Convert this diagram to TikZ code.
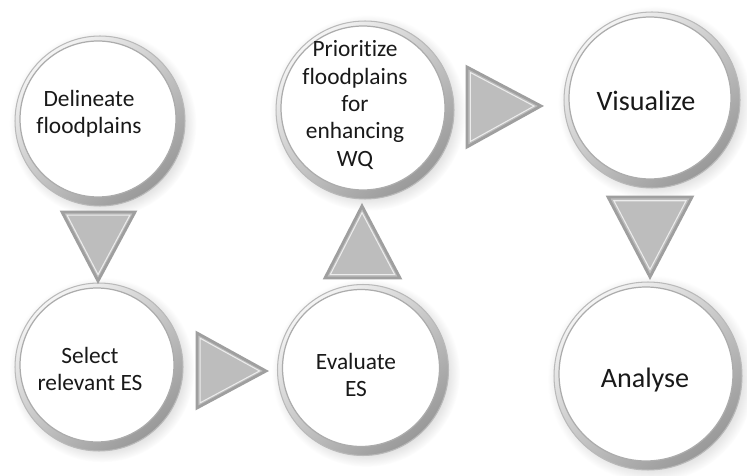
\documentclass[tikz,border=0pt]{standalone}
\usepackage{fontspec}
\setmainfont{Carlito}[Ligatures={NoCommon}]
\usetikzlibrary{shadows,calc}
\tikzset{
  ring/.style={circle, minimum size=#1, inner sep=0pt, draw=gray!55, line width=0.6pt,
    top color=gray!8, bottom color=gray!80, shading angle=40,
    circular drop shadow={shadow xshift=1.5pt, shadow yshift=-1.5pt, opacity=0.25, fill=gray}},
  face/.style={circle, minimum size=#1, inner sep=0pt, fill=white, draw=gray!65, line width=0.7pt},
  label/.style={align=center, text=black!90, inner sep=0pt},
  smalltxt/.style={label, font=\fontsize{13.3}{15.6}\selectfont},
  bigtxt/.style={label, font=\fontsize{16}{19}\selectfont},
  trifill/.style={fill=gray!52, draw=gray!75, line width=1.6pt, line join=miter},
  trihi/.style={draw=gray!15, line width=0.6pt, line join=miter},
}
\newcommand\flowtri[4]{%
  \coordinate (#1a) at #2; \coordinate (#1b) at #3; \coordinate (#1c) at #4;
  \coordinate (#1m) at (barycentric cs:#1a=1,#1b=1,#1c=1);
  \path[trifill] (#1a) -- (#1b) -- (#1c) -- cycle;
  \path[trihi] ($(#1m)!0.86!(#1a)$) -- ($(#1m)!0.86!(#1b)$) -- ($(#1m)!0.86!(#1c)$) -- cycle;
}
\begin{document}
\begin{tikzpicture}[x=0.02cm, y=-0.02cm]
\useasboundingbox (0,0) rectangle (747,476);

% circles: ring + face
\node[ring=3.40cm] (r1) at (100,121) {};
\node[face=3.12cm] (f1) at (98,119) {};
\node[smalltxt] (delin) at (89,114) {Delineate\\floodplains};

\node[ring=3.36cm] (r2) at (99,367) {};
\node[face=3.08cm] (f2) at (97,365) {};
\node[smalltxt] (select) at (90,369) {Select\\relevant ES};

\node[ring=3.42cm] (r3) at (363,370) {};
\node[face=3.14cm] (f3) at (361,368) {};
\node[smalltxt] (eval) at (356,375) {Evaluate\\ES};

\node[ring=3.56cm] (r4) at (365,110) {};
\node[face=3.28cm] (f4) at (363,108) {};
\node[smalltxt] (prio) at (355,105) {Prioritize\\floodplains\\for\\enhancing\\WQ};

\node[ring=3.52cm] (r5) at (652,100) {};
\node[face=3.24cm] (f5) at (650,98) {};
\node[bigtxt] (vis) at (646,101) {Visualize};

\node[ring=3.76cm] (r6) at (648,376) {};
\node[face=3.48cm] (f6) at (646,374) {};
\node[bigtxt] (ana) at (645,380) {Analyse};

% triangle arrows
\flowtri{t1}{(62,212)}{(135,212)}{(98,281)}
\flowtri{t2}{(197,333)}{(197,408)}{(266,371)}
\flowtri{t3}{(325,278)}{(400,278)}{(362,206)}
\flowtri{t4}{(467,67)}{(467,147)}{(541,106)}
\flowtri{t5}{(608,197)}{(692,197)}{(650,277)}
\end{tikzpicture}
\end{document}
